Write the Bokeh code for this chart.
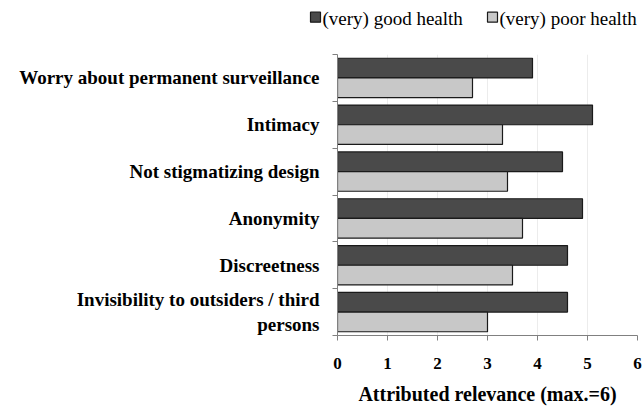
import numpy as np
from bokeh.plotting import figure
from bokeh.layouts import column
from bokeh.models import ColumnDataSource, Range1d, FixedTicker
from bokeh.core.properties import value
from bokeh.embed import file_html
from bokeh.resources import INLINE

# ---- data (top to bottom) ----
categories = [
    "Worry about permanent surveillance",
    "Intimacy",
    "Not stigmatizing design",
    "Anonymity",
    "Discreetness",
    "Invisibility to outsiders / third\npersons",
]
good_health = [3.9, 5.1, 4.5, 4.9, 4.6, 4.6]
poor_health = [2.7, 3.3, 3.4, 3.7, 3.5, 3.0]
series_names = ["(very) good health", "(very) poor health"]
x_ticks = [0, 1, 2, 3, 4, 5, 6]

n = len(categories)
centers = (n - 1 - np.arange(n)) + 0.5
src = ColumnDataSource(dict(
    cat=categories,
    yc=centers,
    y_good=centers + 0.21,
    y_poor=centers - 0.21,
    good=good_health,
    poor=poor_health,
))

SERIF = "Liberation Serif"
DARK = "#4a4a4a"
LIGHT = "#c8c8c8"
EDGE = "#1a1a1a"
AXIS = "#808080"

W = 642
LEG_H = 32

p = figure(width=W, height=408 - LEG_H, output_backend="svg", toolbar_location=None,
           x_range=Range1d(0, 6), y_range=Range1d(0, n),
           min_border_left=337, min_border_right=5,
           min_border_top=54 - LEG_H, min_border_bottom=73)
p.outline_line_color = None
p.background_fill_color = "white"

p.hbar(y="y_good", right="good", left=0, height=0.42, source=src,
       fill_color=DARK, line_color=EDGE, line_width=1.2)
p.hbar(y="y_poor", right="poor", left=0, height=0.42, source=src,
       fill_color=LIGHT, line_color=EDGE, line_width=1.2)

# x axis
xa = p.xaxis[0]
xa.ticker = FixedTicker(ticks=x_ticks)
xa.minor_tick_line_color = None
xa.major_tick_in = 0
xa.major_tick_out = 5
xa.axis_line_color = AXIS
xa.major_tick_line_color = AXIS
xa.major_label_text_font = SERIF
xa.major_label_text_font_style = "bold"
xa.major_label_text_font_size = "17px"
xa.major_label_text_color = "black"
xa.major_label_standoff = 17
xa.axis_label = "Attributed relevance (max.=6)"
xa.axis_label_text_font = SERIF
xa.axis_label_text_font_style = "bold"
xa.axis_label_text_font_size = "20px"
xa.axis_label_text_color = "black"
xa.axis_label_standoff = 11

# y axis: labels at group centres, tick marks at group boundaries (minor ticks)
ya = p.yaxis[0]
ya.ticker = FixedTicker(ticks=list(centers), minor_ticks=list(range(n + 1)))
ya.major_label_overrides = {float(c): lab for c, lab in zip(centers, categories)}
ya.major_tick_in = 0
ya.major_tick_out = 0
ya.minor_tick_in = 0
ya.minor_tick_out = 5
ya.minor_tick_line_color = AXIS
ya.axis_line_color = AXIS
ya.major_label_text_font = SERIF
ya.major_label_text_font_style = "bold"
ya.major_label_text_font_size = "19px"
ya.major_label_text_color = "black"
ya.major_label_standoff = 13

p.xgrid.ticker = FixedTicker(ticks=x_ticks[1:])
p.xgrid.grid_line_color = "#ececec"
p.ygrid.grid_line_color = None

# ---- legend strip on top (screen-pixel coordinate space) ----
lf = figure(width=W, height=LEG_H, output_backend="svg", toolbar_location=None,
            x_axis_location=None, y_axis_location=None,
            x_range=Range1d(0, W), y_range=Range1d(LEG_H, 0),
            min_border_left=0, min_border_right=0, min_border_top=0, min_border_bottom=0)
lf.outline_line_color = None
lf.xgrid.visible = False
lf.ygrid.visible = False
# keep the legend strip's frame independent of the chart's frame
for fig in (lf, p):
    if "frame_align" in fig.properties():
        fig.frame_align = False

leg_x = [310, 487]          # left edge of each legend swatch
sw = 10                     # swatch size
leg_src = ColumnDataSource(dict(
    xs=[x + sw / 2 for x in leg_x],
    xt=[x + sw + 2 for x in leg_x],
    y=[16.7, 16.7],
    yt=[17.8, 17.8],
    color=[DARK, LIGHT],
    label=series_names,
))
lf.rect(x="xs", y="y", width=sw, height=sw, source=leg_src,
        fill_color="color", line_color=EDGE, line_width=1.2)
lf.text(x="xt", y="yt", text="label", source=leg_src,
        text_font=value(SERIF), text_font_size="19px", text_color="black",
        text_baseline="middle", text_align="left")

layout = column(lf, p, spacing=0)
open("out.html", "w").write(file_html(layout, INLINE))
